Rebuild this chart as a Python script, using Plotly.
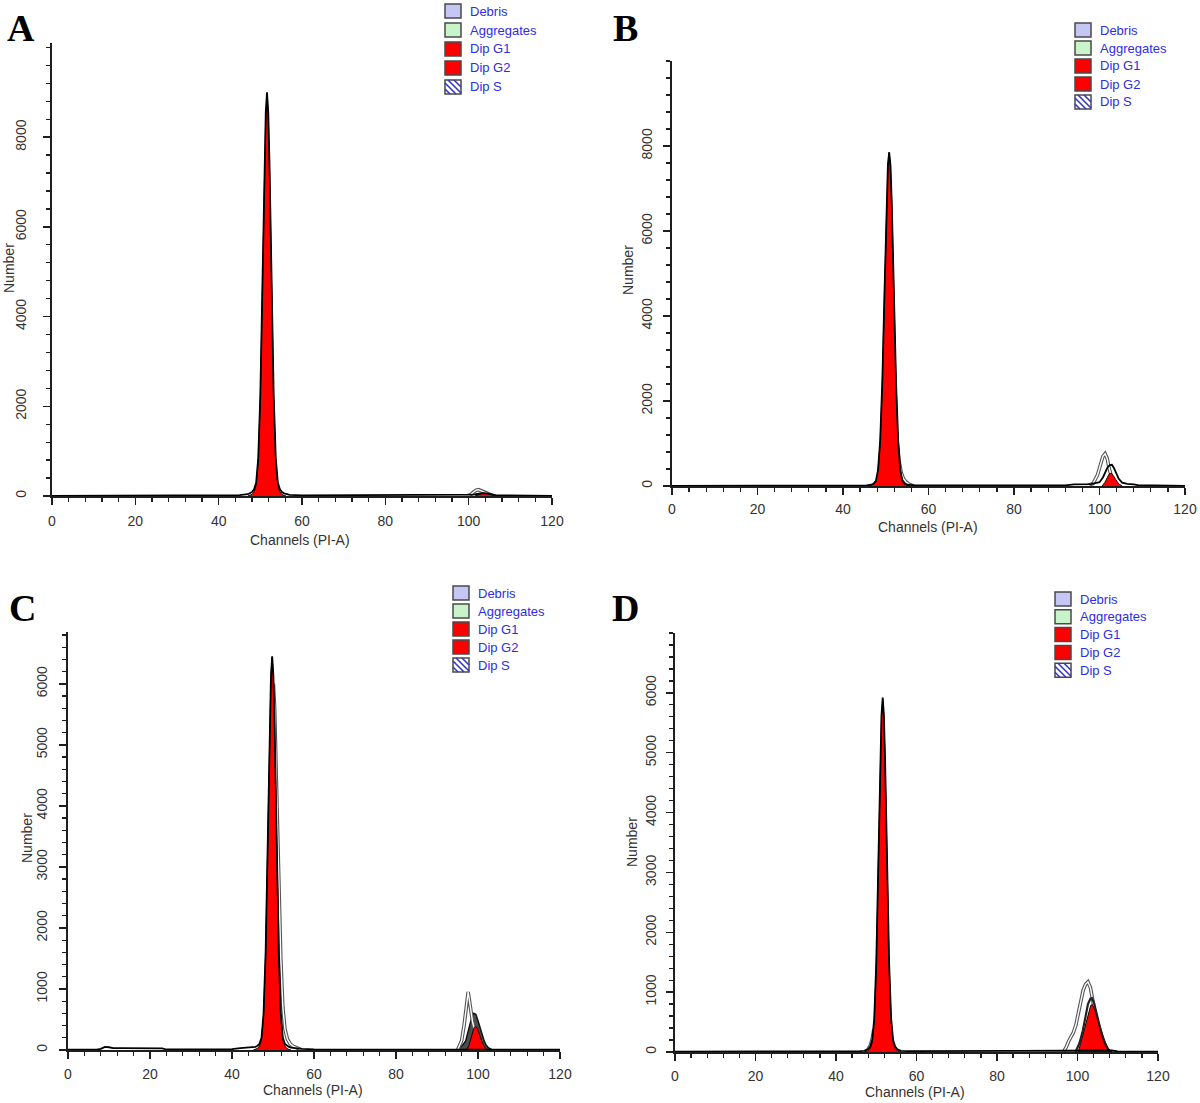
import plotly.graph_objects as go

W, H = 1200, 1103

# ---------------- data (channel, count) ----------------
LEGEND_LABELS = ["Debris", "Aggregates", "Dip G1", "Dip G2", "Dip S"]
X_TICKS = [0, 20, 40, 60, 80, 100, 120]
Y_TICKS_AB = [0, 2000, 4000, 6000, 8000]
Y_TICKS_CD = [0, 1000, 2000, 3000, 4000, 5000, 6000]

# Panel A
A_tot_ch = [0, 10, 30, 45, 47.0, 47.5, 48.0, 48.5, 49.0, 49.5, 50.0, 50.5, 51.0, 51.3, 51.6, 51.9, 52.2, 52.7,
            53.2, 53.7, 54.2, 54.7, 55.2, 55.7, 56.2, 57, 60, 80, 99, 101, 102.5, 103.5, 104.5, 105.5, 106.5, 108, 120]
A_tot_n = [5, 8, 10, 20, 40, 60, 90, 150, 300, 850, 2250, 4700, 7400, 8550, 9000, 8550, 7400, 4700,
           2250, 850, 300, 150, 90, 60, 40, 25, 15, 15, 15, 30, 50, 65, 55, 35, 20, 12, 5]
A_g1_ch = [47.0, 47.5, 48.0, 48.5, 49.0, 49.5, 50.0, 50.5, 51.0, 51.3, 51.6, 51.9, 52.2, 52.7, 53.2, 53.7, 54.2,
           54.7, 55.2, 55.7, 56.2]
A_g1_n = [0, 10, 35, 90, 240, 800, 2200, 4650, 7350, 8500, 8950, 8500, 7350, 4650, 2200, 800, 240, 90, 35, 10, 0]
A_g2_ch = [101.5, 102.5, 103.5, 104.5, 105.5, 106.5]
A_g2_n = [0, 40, 65, 55, 25, 0]
A_fit_ch = [99.5, 100.5, 101.2, 101.8, 102.4, 103.0, 103.8, 104.8, 106]
A_fit_n = [0, 30, 90, 130, 140, 120, 80, 40, 0]
A_marks = [51.6]

# Panel B
B_tot_ch = [0, 20, 40, 45.5, 46.7, 47.2, 47.7, 48.2, 48.7, 49.2, 49.7, 50.2, 50.5, 50.8, 51.1, 51.4, 51.9, 52.4,
            52.9, 53.4, 53.9, 54.4, 54.9, 55.6, 57, 60, 80, 92, 94, 98, 100, 100.8, 101.4, 101.9, 102.4, 102.9,
            103.4, 103.9, 104.5, 105.3, 106.5, 108, 109, 120]
B_tot_n = [5, 5, 8, 15, 30, 60, 120, 380, 1070, 2470, 4540, 6680, 7550, 7850, 7550, 6680, 4540, 2470,
           1070, 380, 120, 60, 30, 20, 15, 12, 10, 15, 40, 45, 90, 200, 330, 440, 490, 500,
           420, 300, 170, 80, 50, 40, 20, 5]
B_g1_ch = [46.0, 46.7, 47.2, 47.7, 48.2, 48.7, 49.2, 49.7, 50.2, 50.5, 50.8, 51.1, 51.4, 51.9, 52.4, 52.9, 53.4,
           53.9, 54.4, 54.9, 55.6]
B_g1_n = [0, 20, 50, 110, 370, 1060, 2460, 4530, 6670, 7540, 7850, 7540, 6670, 4530, 2460, 1060, 370, 110, 50, 20, 0]
B_g2_ch = [100.6, 101.3, 101.9, 102.3, 102.7, 103.2, 103.8, 104.5, 105.3]
B_g2_n = [0, 90, 210, 290, 300, 250, 150, 50, 0]
B_fit_ch = [52.2, 52.6, 53.1, 53.6, 54.1, 54.7, 55.4, 56.5, None, 97, 98.5, 99.5, 100.2, 100.8, 101.3, 101.8,
            102.3, 103.0, 104.0]
B_fit_n = [1500, 1100, 600, 320, 180, 100, 45, 0, None, 0, 60, 250, 500, 700, 760, 650, 400, 150, 0]
B_marks = [50.8]

# Panel C
C_tot_ch = [0, 7, 8, 9, 10, 11, 13, 18, 23, 24, 35, 40, 42, 44, 45.2, 45.7, 46.2, 46.7, 47.2, 47.7, 48.2, 48.7,
            49.2, 49.5, 49.8, 50.1, 50.4, 50.9, 51.4, 51.9, 52.4, 52.9, 53.4, 53.9, 54.4, 55, 56, 57, 60, 80, 94, 120]
C_tot_n = [5, 5, 20, 50, 45, 30, 30, 25, 25, 8, 8, 15, 30, 35, 40, 50, 70, 100, 200, 600, 1600, 3360,
           5300, 6130, 6450, 6130, 5300, 3360, 1600, 600, 200, 100, 70, 50, 40, 35, 30, 20, 10, 10, 10, 5]
C_g1_ch = [45.2, 45.7, 46.2, 46.7, 47.2, 47.7, 48.2, 48.7, 49.2, 49.5, 49.8, 50.1, 50.4, 50.9, 51.4, 51.9, 52.4,
           52.9, 53.4, 53.9, 54.4]
C_g1_n = [0, 7, 25, 65, 170, 575, 1580, 3340, 5290, 6120, 6440, 6120, 5290, 3340, 1580, 575, 170, 65, 25, 7, 0]
C_g2_ch = [97.2, 97.8, 98.4, 99.0, 99.4, 99.8, 100.4, 101.0, 101.6, 102.3]
C_g2_n = [0, 80, 220, 360, 390, 360, 250, 130, 50, 0]
C_dark_ch = [95.0, 96.0, 97.0, 97.5, 98.0, 98.5, 99.0, 99.5, 100.0, 100.5, 101.0, 101.5, 102.0, 102.5, 103.5]
C_dark_n = [30, 60, 150, 280, 420, 540, 600, 580, 480, 360, 250, 150, 80, 40, 0]
C_fit_ch = [50.1, 50.4, 50.9, 51.4, 51.9, 52.4, 52.9, 53.5, 54.2, 55.0, 56.0, 57.0, None,
            95.0, 96.0, 96.6, 97.1, 97.4, 97.6, 97.8, 98.2, 98.7, 99.3, 100.0, 101.0]
C_fit_n = [6000, 5600, 4200, 2700, 1500, 700, 350, 180, 100, 60, 30, 0, None,
           0, 150, 400, 700, 880, 950, 860, 650, 450, 300, 120, 0]
C_marks = [49.8, 97.6]

# Panel D
D_tot_ch = [0, 20, 40, 46, 47.0, 47.5, 48.0, 48.5, 49.0, 49.5, 50.0, 50.5, 51.0, 51.3, 51.6, 51.9, 52.2, 52.7,
            53.2, 53.7, 54.2, 54.7, 55.2, 55.7, 56.2, 58, 70, 90, 96, 108.5, 110, 120]
D_tot_n = [5, 5, 8, 15, 20, 30, 50, 90, 200, 560, 1480, 3090, 4860, 5620, 5920, 5620, 4860, 3090,
           1480, 560, 200, 90, 50, 30, 20, 15, 15, 20, 25, 25, 10, 5]
D_g1_ch = [47.0, 47.5, 48.0, 48.5, 49.0, 49.5, 50.0, 50.5, 51.0, 51.3, 51.6, 51.9, 52.2, 52.7, 53.2, 53.7, 54.2,
           54.7, 55.2, 55.7, 56.2]
D_g1_n = [0, 7, 23, 60, 160, 530, 1450, 3060, 4840, 5600, 5900, 5600, 4840, 3060, 1450, 530, 160, 60, 23, 7, 0]
D_g2_ch = [100.2, 101.0, 101.8, 102.6, 103.3, 103.7, 104.2, 105.0, 105.8, 106.6, 107.4, 108.1]
D_g2_n = [0, 200, 420, 640, 780, 790, 720, 560, 380, 220, 80, 0]
D_dark_ch = [99.5, 100.5, 101.3, 102.0, 102.6, 103.2, 103.6, 104.1, 104.7, 105.3, 106.0, 106.8, 107.6, 108.5]
D_dark_n = [0, 150, 350, 600, 800, 890, 900, 820, 650, 470, 300, 150, 50, 0]
D_fit_ch = [47.6, 48.1, 48.6, 49.0, 49.4, None, 96.5, 97.2, 97.8, 98.4, 99.0, 99.6, 100.2, 100.8, 101.4,
            102.0, 102.6, 103.2, 103.8, 104.4, 105.0, 105.8, 106.6]
D_fit_n = [0, 50, 120, 220, 380, None, 0, 80, 180, 250, 330, 450, 650, 850, 1030,
           1130, 1170, 1080, 880, 640, 400, 180, 0]
D_marks = [51.6, 103.1]

# ---------------- layout / styling ----------------
RED = "#ff0000"
AX = "#1e1e1e"
TXT = "#333333"
SANS = "Liberation Sans, Arial, sans-serif"


def px(x):
    return x / W


def py(y):
    return 1 - y / H


panels = [
    dict(letter="A", left=52, right=552, base=496, top=43, ymax=10100, yticks=Y_TICKS_AB, yminor=400, ystand=12,
         xstand=5, tot=(A_tot_ch, A_tot_n), g1=(A_g1_ch, A_g1_n), g2=(A_g2_ch, A_g2_n), fit=(A_fit_ch, A_fit_n),
         dark=None, dark_fill=False, marks=A_marks,
         letter_xy=(21, 28), ytitle_xy=(9, 268), xtitle_xy=(300, 540), leg=(445, 11, 19)),
    dict(letter="B", left=672, right=1185, base=486, top=61, ymax=10000, yticks=Y_TICKS_AB, yminor=400, ystand=6,
         xstand=3, tot=(B_tot_ch, B_tot_n), g1=(B_g1_ch, B_g1_n), g2=(B_g2_ch, B_g2_n), fit=(B_fit_ch, B_fit_n),
         dark=None, dark_fill=False, marks=B_marks,
         letter_xy=(626, 28), ytitle_xy=(628, 270), xtitle_xy=(928, 527), leg=(1075, 30, 18)),
    dict(letter="C", left=68, right=560, base=1050, top=632, ymax=6850, yticks=Y_TICKS_CD, yminor=200, ystand=7,
         xstand=4, tot=(C_tot_ch, C_tot_n), g1=(C_g1_ch, C_g1_n), g2=(C_g2_ch, C_g2_n), fit=(C_fit_ch, C_fit_n),
         dark=(C_dark_ch, C_dark_n), dark_fill=True, marks=C_marks,
         letter_xy=(22, 608), ytitle_xy=(27, 838), xtitle_xy=(313, 1090), leg=(453, 593, 18)),
    dict(letter="D", left=675, right=1158, base=1052, top=633, ymax=7000, yticks=Y_TICKS_CD, yminor=200, ystand=5,
         xstand=4, tot=(D_tot_ch, D_tot_n), g1=(D_g1_ch, D_g1_n), g2=(D_g2_ch, D_g2_n), fit=(D_fit_ch, D_fit_n),
         dark=(D_dark_ch, D_dark_n), dark_fill=False, marks=D_marks,
         letter_xy=(626, 608), ytitle_xy=(632, 842), xtitle_xy=(915, 1092), leg=(1055, 599, 17.8)),
]

fig = go.Figure()
annotations = []
shapes = []
LEG_FILL = ["#c6c6f4", "#c9f3c9", RED, RED, "#ffffff"]

for i, p in enumerate(panels, start=1):
    sfx = "" if i == 1 else str(i)
    xa, ya = "x" + sfx, "y" + sfx
    common = dict(xaxis=xa, yaxis=ya, showlegend=False, hoverinfo="skip")

    if p["dark"] is not None and p["dark_fill"]:
        dch, dn = p["dark"]
        fig.add_trace(go.Scatter(x=dch, y=dn, mode="lines", fill="tozeroy", fillcolor="#4d4d4d",
                                 line=dict(color="#111", width=1.5), **common))
    fch, fn = p["fit"]
    fig.add_trace(go.Scatter(x=fch, y=fn, mode="lines", line=dict(color="#555", width=3.6), **common))
    fig.add_trace(go.Scatter(x=fch, y=fn, mode="lines", line=dict(color="#ffffff", width=1.4), **common))
    for key in ("g2", "g1"):
        gch, gn = p[key]
        fig.add_trace(go.Scatter(x=gch, y=gn, mode="lines", fill="tozeroy", fillcolor=RED,
                                 line=dict(color="#1a0000", width=1.0), **common))
    if p["dark"] is not None and not p["dark_fill"]:
        dch, dn = p["dark"]
        fig.add_trace(go.Scatter(x=dch, y=dn, mode="lines", line=dict(color="#222", width=2.2), **common))
    tch, tn = p["tot"]
    fig.add_trace(go.Scatter(x=tch, y=tn, mode="lines", line=dict(color="#000", width=1.8), **common))

    ppu = (p["base"] - p["top"]) / p["ymax"]
    off = 9.0 / ppu
    fig.add_trace(go.Scatter(x=p["marks"], y=[-off] * len(p["marks"]), mode="markers", cliponaxis=False,
                             marker=dict(symbol="triangle-up", size=15, color="#000"), **common))

    axis_common = dict(showline=True, linecolor=AX, linewidth=1.6, ticks="outside", tickcolor=AX,
                       tickwidth=1.5, ticklen=7, showgrid=False, zeroline=False, fixedrange=True,
                       automargin=False, tickformat="d",
                       tickfont=dict(family=SANS, size=14, color=TXT))
    fig.update_layout({
        "xaxis" + sfx: dict(domain=[px(p["left"]), px(p["right"])], range=[0, 120], anchor=ya,
                            tickmode="array", tickvals=X_TICKS, ticklabelstandoff=p["xstand"],
                            minor=dict(tickmode="linear", dtick=4, tick0=0, ticklen=4, ticks="outside",
                                       tickcolor=AX, tickwidth=1.3),
                            **axis_common),
        "yaxis" + sfx: dict(domain=[py(p["base"]), py(p["top"])], range=[0, p["ymax"]], anchor=xa,
                            tickmode="array", tickvals=p["yticks"], tickangle=-90,
                            ticklabelstandoff=p["ystand"],
                            minor=dict(tickmode="linear", dtick=p["yminor"], tick0=0, ticklen=4,
                                       ticks="outside", tickcolor=AX, tickwidth=1.3),
                            **axis_common),
    })

    lx, ly = p["letter_xy"]
    annotations.append(dict(text="<b>%s</b>" % p["letter"], x=px(lx), y=py(ly), xref="paper", yref="paper",
                            showarrow=False, xanchor="center", yanchor="middle",
                            font=dict(family="Liberation Serif, Times New Roman, serif", size=38, color="#000")))
    tx, ty = p["ytitle_xy"]
    annotations.append(dict(text="Number", x=px(tx), y=py(ty), xref="paper", yref="paper", showarrow=False,
                            textangle=-90, xanchor="center", yanchor="middle",
                            font=dict(family=SANS, size=14, color=TXT)))
    cx, cy = p["xtitle_xy"]
    annotations.append(dict(text="Channels (PI-A)", x=px(cx), y=py(cy), xref="paper", yref="paper",
                            showarrow=False, xanchor="center", yanchor="middle",
                            font=dict(family=SANS, size=14, color=TXT)))

    # legend drawn as boxes + labels
    L, Y0, DY = p["leg"]
    bw, bh = 16, 14
    for k, lab in enumerate(LEGEND_LABELS):
        cyk = Y0 + k * DY
        t = cyk - bh / 2
        shapes.append(dict(type="rect", xref="paper", yref="paper", x0=px(L), x1=px(L + bw),
                           y0=py(t + bh), y1=py(t), fillcolor=LEG_FILL[k],
                           line=dict(color="#4a4a4a", width=1.5), layer="above"))
        if lab == "Dip S":
            for kk in (-9, -3, 3, 9):
                s0 = max(0.0, -kk / bh)
                s1 = min(1.0, (bw - kk) / bh)
                if s1 <= s0:
                    continue
                shapes.append(dict(type="line", xref="paper", yref="paper",
                                   x0=px(L + kk + bh * s0), y0=py(t + bh * s0),
                                   x1=px(L + kk + bh * s1), y1=py(t + bh * s1),
                                   line=dict(color="#3535c8", width=1.6), layer="above"))
        annotations.append(dict(text=lab, x=px(L + 23), y=py(cyk), xref="paper", yref="paper",
                                showarrow=False, xanchor="left", yanchor="middle",
                                font=dict(family=SANS, size=13, color="#2e2ee0")))

fig.update_layout(width=W, height=H, margin=dict(l=0, r=0, t=0, b=0, pad=0, autoexpand=False),
                  paper_bgcolor="white", plot_bgcolor="white", annotations=annotations, shapes=shapes,
                  showlegend=False)

# remove the browser's default 8px page margin so the figure sits at the window origin
fig.write_html("out.html", config={"displayModeBar": False, "staticPlot": True},
               post_script="document.body.style.margin='0px';document.body.style.overflow='hidden';")
